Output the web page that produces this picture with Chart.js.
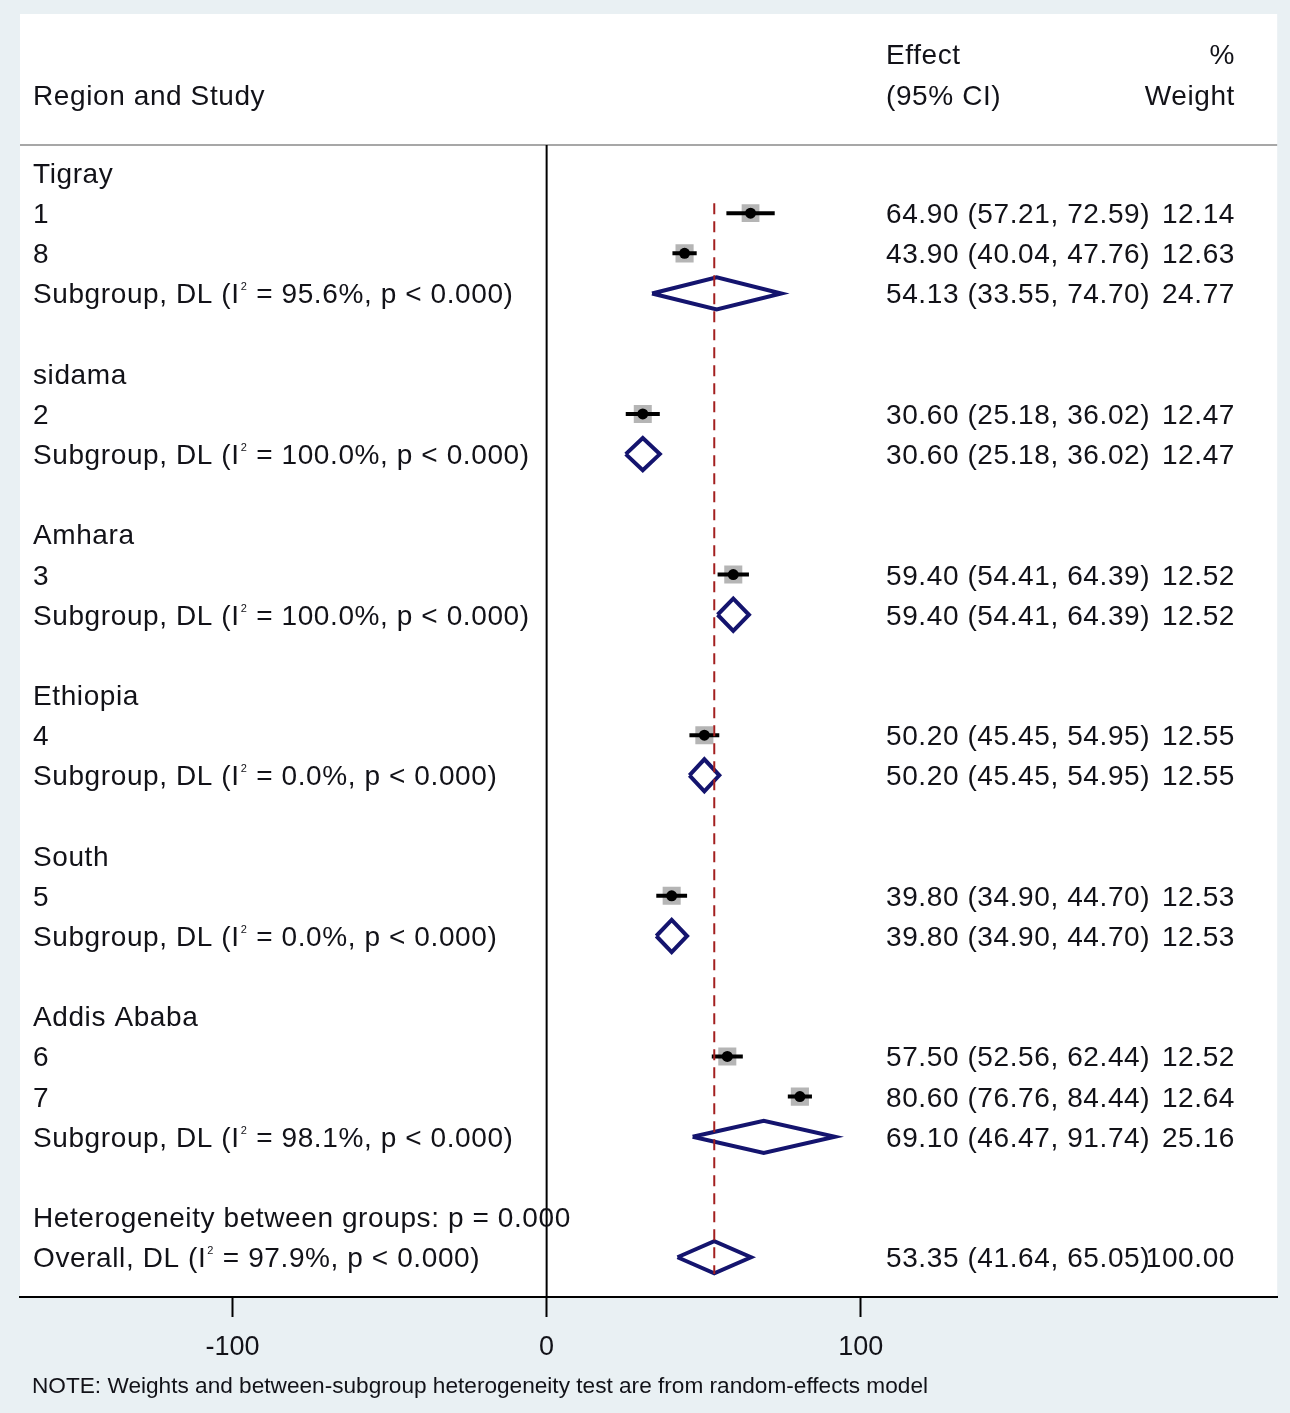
<!DOCTYPE html>
<html>
<head>
<meta charset="utf-8">
<script src="https://cdn.jsdelivr.net/npm/chart.js@4.4.1/dist/chart.umd.min.js"></script>
<style>
  html, body { margin: 0; padding: 0; background: #e9f0f3; overflow: hidden; }
  #wrap { width: 1290px; height: 1413px; }
</style>
</head>
<body>
<div id="wrap"><canvas id="forest" width="1290" height="1413"></canvas></div>
<script>
// ---- Study-level data -------------------------------------------------
const regions      = ['Tigray', 'sidama', 'Amhara', 'Ethiopia', 'South', 'Addis Ababa'];
const studyIds     = ['1', '8', '2', '3', '4', '5', '6', '7'];
const studyRegion  = [0, 0, 1, 2, 3, 4, 5, 5];
const studyEffect  = [64.90, 43.90, 30.60, 59.40, 50.20, 39.80, 57.50, 80.60];
const studyLower   = [57.21, 40.04, 25.18, 54.41, 45.45, 34.90, 52.56, 76.76];
const studyUpper   = [72.59, 47.76, 36.02, 64.39, 54.95, 44.70, 62.44, 84.44];
const studyWeight  = [12.14, 12.63, 12.47, 12.52, 12.55, 12.53, 12.52, 12.64];

// ---- Subgroup pooled estimates (DerSimonian-Laird) --------------------
const subEffect = [54.13, 30.60, 59.40, 50.20, 39.80, 69.10];
const subLower  = [33.55, 25.18, 54.41, 45.45, 34.90, 46.47];
const subUpper  = [74.70, 36.02, 64.39, 54.95, 44.70, 91.74];
const subWeight = [24.77, 12.47, 12.52, 12.55, 12.53, 25.16];
const subI2     = ['95.6', '100.0', '100.0', '0.0', '0.0', '98.1'];
const subP      = ['0.000', '0.000', '0.000', '0.000', '0.000', '0.000'];

// ---- Overall pooled estimate -----------------------------------------
const overallEffect = [53.35];
const overallLower  = [41.64];
const overallUpper  = [65.05];
const overallWeight = [100.00];
const overallI2     = ['97.9'];
const overallP      = ['0.000'];
const betweenP      = ['0.000'];

// ---- Axis ticks -------------------------------------------------------
const xTicks = [-100, 0, 100];

// ---- Row layout (one row per line of the table) ----------------------
const regionRow = [], studyRow = [], subRow = [];
let r = 0;
regions.forEach((reg, g) => {
  regionRow[g] = r++;
  studyIds.forEach((id, i) => { if (studyRegion[i] === g) studyRow[i] = r++; });
  subRow[g] = r++;
  r++; // spacer
});
const hetRow = r++;
const overallRow = r;

const FONT = '"Liberation Sans", Arial, sans-serif';
const TEXT = '#121218';
const NAVY = '#14146e';
const DIAMOND_H = 0.4;
const SPACING = '0.6px';

function diamond(est, lo, hi, row) {
  return [
    { x: lo, y: row }, { x: est, y: row - DIAMOND_H },
    { x: hi, y: row }, { x: est, y: row + DIAMOND_H },
    { x: lo, y: row }
  ];
}

const datasets = [];

// reference line at the overall estimate (on top)
datasets.push({
  data: [{ x: overallEffect[0], y: 0.75 }, { x: overallEffect[0], y: overallRow + 0.42 }],
  showLine: true, borderColor: '#a31f1f', borderWidth: 2, borderDash: [11, 7],
  pointRadius: 0, order: 0
});

// pooled diamonds
subEffect.forEach((e, g) => {
  datasets.push({
    data: diamond(e, subLower[g], subUpper[g], subRow[g]),
    showLine: true, borderColor: NAVY, borderWidth: 4, pointRadius: 0,
    borderJoinStyle: 'miter', fill: false, order: 1
  });
});
datasets.push({
  data: diamond(overallEffect[0], overallLower[0], overallUpper[0], overallRow),
  showLine: true, borderColor: NAVY, borderWidth: 4, pointRadius: 0,
  borderJoinStyle: 'miter', fill: false, order: 1
});

// study point estimates
datasets.push({
  data: studyEffect.map((e, i) => ({ x: e, y: studyRow[i] })),
  pointStyle: 'circle', pointRadius: 5.5, backgroundColor: '#000',
  borderColor: '#000', borderWidth: 0, order: 2
});

// study confidence intervals
studyEffect.forEach((e, i) => {
  datasets.push({
    data: [{ x: studyLower[i], y: studyRow[i] }, { x: studyUpper[i], y: studyRow[i] }],
    showLine: true, borderColor: '#000', borderWidth: 4, borderCapStyle: 'butt',
    pointRadius: 0, order: 3
  });
});

// weight boxes (area proportional to weight)
datasets.push({
  data: studyEffect.map((e, i) => ({ x: e, y: studyRow[i] })),
  pointStyle: 'rect',
  pointRadius: c => 5.1 * Math.sqrt(studyWeight[c.dataIndex]) / Math.SQRT2,
  backgroundColor: '#b5b5b5', borderWidth: 0, order: 4
});

// line of no effect
datasets.push({
  data: [{ x: 0, y: -0.7 }, { x: 0, y: 27.99 }],
  showLine: true, borderColor: '#000', borderWidth: 2, pointRadius: 0, order: 5
});

function setFont(ctx, size) {
  ctx.font = size + 'px ' + FONT;
  if ('letterSpacing' in ctx) ctx.letterSpacing = size >= 20 ? SPACING : '0px';
}

function drawLabel(ctx, x, y, parts) {
  // parts: [{t, sup}] drawn left to right
  let cx = x;
  parts.forEach(p => {
    if (p.sup) {
      setFont(ctx, 11);
      ctx.fillText(p.t, cx + 1, y - 13);
      cx += ctx.measureText(p.t).width + 2;
    } else {
      setFont(ctx, 28);
      ctx.fillText(p.t, cx, y);
      cx += ctx.measureText(p.t).width;
    }
  });
}

function pooledLabel(head, i2, p) {
  return [{ t: head + ' (I' }, { t: '2', sup: true }, { t: ' = ' + i2 + '%, p < ' + p + ')' }];
}

const forestPlugin = {
  id: 'forestTable',
  beforeDraw(chart) {
    const { ctx, chartArea: a } = chart;
    ctx.save();
    ctx.fillStyle = '#e9f0f3';
    ctx.fillRect(0, 0, chart.width, chart.height);
    ctx.fillStyle = '#ffffff';
    ctx.fillRect(a.left, a.top, a.right - a.left, a.bottom - a.top);
    // header rule
    const yh = chart.scales.y.getPixelForValue(-0.7);
    ctx.strokeStyle = '#8a8a8a';
    ctx.lineWidth = 1.5;
    ctx.beginPath();
    ctx.moveTo(a.left, yh);
    ctx.lineTo(a.right, yh);
    ctx.stroke();
    ctx.restore();
  },
  afterDraw(chart) {
    const { ctx } = chart;
    const ys = chart.scales.y;
    const base = v => ys.getPixelForValue(v) + 10;
    const LX = 33, EX = 886, WX = 1235;
    ctx.save();
    ctx.fillStyle = TEXT;
    ctx.textBaseline = 'alphabetic';
    setFont(ctx, 28);

    // header
    ctx.textAlign = 'left';
    ctx.fillText('Region and Study', LX, base(-1.94));
    ctx.fillText('Effect', EX, base(-2.96));
    ctx.fillText('(95% CI)', EX, base(-1.94));
    ctx.textAlign = 'right';
    ctx.fillText('%', WX, base(-2.96));
    ctx.fillText('Weight', WX, base(-1.94));

    const ciText = (e, lo, hi) => e.toFixed(2) + ' (' + lo.toFixed(2) + ', ' + hi.toFixed(2) + ')';

    regions.forEach((reg, g) => {
      ctx.textAlign = 'left';
      setFont(ctx, 28);
      ctx.fillText(reg, LX, base(regionRow[g]));
      drawLabel(ctx, LX, base(subRow[g]), pooledLabel('Subgroup, DL', subI2[g], subP[g]));
      setFont(ctx, 28);
      ctx.fillText(ciText(subEffect[g], subLower[g], subUpper[g]), EX, base(subRow[g]));
      ctx.textAlign = 'right';
      ctx.fillText(subWeight[g].toFixed(2), WX, base(subRow[g]));
    });

    studyIds.forEach((id, i) => {
      setFont(ctx, 28);
      ctx.textAlign = 'left';
      ctx.fillText(id, LX, base(studyRow[i]));
      ctx.fillText(ciText(studyEffect[i], studyLower[i], studyUpper[i]), EX, base(studyRow[i]));
      ctx.textAlign = 'right';
      ctx.fillText(studyWeight[i].toFixed(2), WX, base(studyRow[i]));
    });

    ctx.textAlign = 'left';
    setFont(ctx, 28);
    ctx.fillText('Heterogeneity between groups: p = ' + betweenP[0], LX, base(hetRow));
    drawLabel(ctx, LX, base(overallRow), pooledLabel('Overall, DL', overallI2[0], overallP[0]));
    setFont(ctx, 28);
    ctx.fillText(ciText(overallEffect[0], overallLower[0], overallUpper[0]), EX, base(overallRow));
    ctx.textAlign = 'right';
    ctx.fillText(overallWeight[0].toFixed(2), WX, base(overallRow));

    // footnote, set in a condensed face
    const note = 'NOTE: Weights and between-subgroup heterogeneity test are from random-effects model';
    ctx.textAlign = 'left';
    setFont(ctx, 22);
    if ('letterSpacing' in ctx) ctx.letterSpacing = '0px';
    const w = ctx.measureText(note).width;
    ctx.translate(32, 1393);
    ctx.scale(896 / w, 1);
    ctx.fillText(note, 0, 0);
    ctx.restore();
  }
};

new Chart(document.getElementById('forest').getContext('2d'), {
  type: 'scatter',
  data: { datasets },
  options: {
    responsive: false,
    animation: false,
    events: [],
    layout: { padding: { left: 20, right: 12, top: 14, bottom: 35.6 } },
    plugins: { legend: { display: false }, tooltip: { enabled: false } },
    scales: {
      x: {
        type: 'linear',
        min: -167.6,
        max: 232.5,
        afterBuildTicks: s => { s.ticks = xTicks.map(v => ({ value: v })); },
        grid: { drawOnChartArea: false, drawTicks: true, tickLength: 20, tickColor: '#000', tickWidth: 2 },
        border: { display: true, color: '#000', width: 2 },
        ticks: { font: { family: FONT, size: 27 }, color: TEXT, padding: 14, maxRotation: 0, autoSkip: false }
      },
      y: { type: 'linear', display: false, min: -3.96, max: 27.99, reverse: true }
    }
  },
  plugins: [forestPlugin]
});
</script>
</body>
</html>
